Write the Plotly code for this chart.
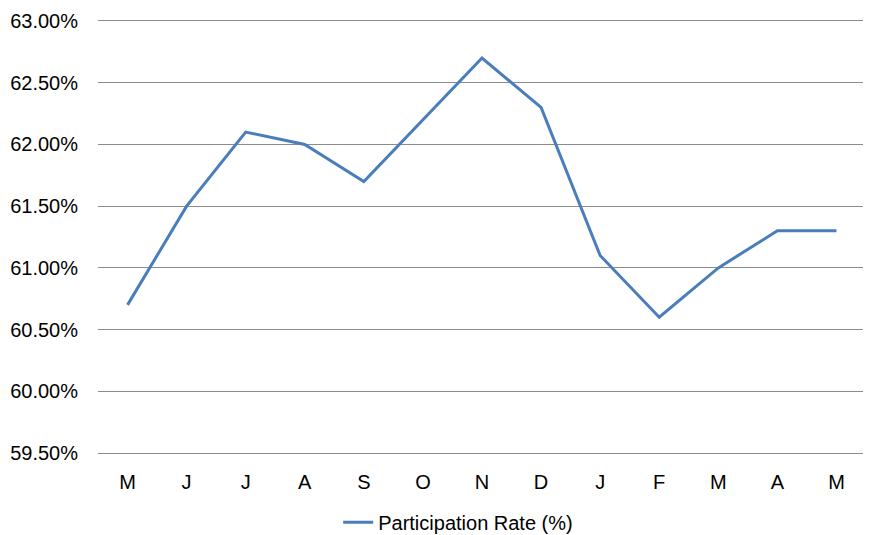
import plotly.graph_objects as go

months = ["M", "J", "J", "A", "S", "O", "N", "D", "J", "F", "M", "A", "M"]
participation = [60.7, 61.5, 62.1, 62.0, 61.7, 62.2, 62.7, 62.3, 61.1, 60.6, 61.0, 61.3, 61.3]
y_ticks = [59.5, 60.0, 60.5, 61.0, 61.5, 62.0, 62.5, 63.0]
y_labels = [f"{v:.2f}%" for v in y_ticks]

idx = list(range(len(months)))

fig = go.Figure()
fig.add_trace(go.Scatter(
    x=idx, y=participation, mode="lines",
    name="Participation Rate (%)",
    line=dict(color="#4a7ebb", width=3),
))

font = dict(family="Liberation Sans, Arial, sans-serif", size=20, color="#000000")

fig.update_layout(
    width=863, height=527,
    margin=dict(l=90, r=5, t=13, b=82),
    paper_bgcolor="white", plot_bgcolor="white",
    font=font,
    showlegend=True,
    legend=dict(orientation="h", x=0.469, xanchor="center",
                yref="container", y=0.024, yanchor="middle",
                font=font, bgcolor="rgba(0,0,0,0)"),
    xaxis=dict(
        range=[-0.5, len(months) - 0.5],
        tickmode="array", tickvals=idx, ticktext=months,
        showgrid=False, zeroline=False,
        showline=True, mirror=True, linecolor="#8c8c8c", linewidth=1,
        ticks="", ticklabelstandoff=11,
        tickfont=font, automargin=False,
    ),
    yaxis=dict(
        range=[59.5, 63.0],
        tickmode="array", tickvals=y_ticks, ticktext=y_labels,
        showgrid=True, gridcolor="#8c8c8c", gridwidth=1,
        zeroline=False, showline=False, ticks="",
        ticklabelstandoff=19,
        tickfont=font, automargin=False,
    ),
)

fig.write_html("out.html")
